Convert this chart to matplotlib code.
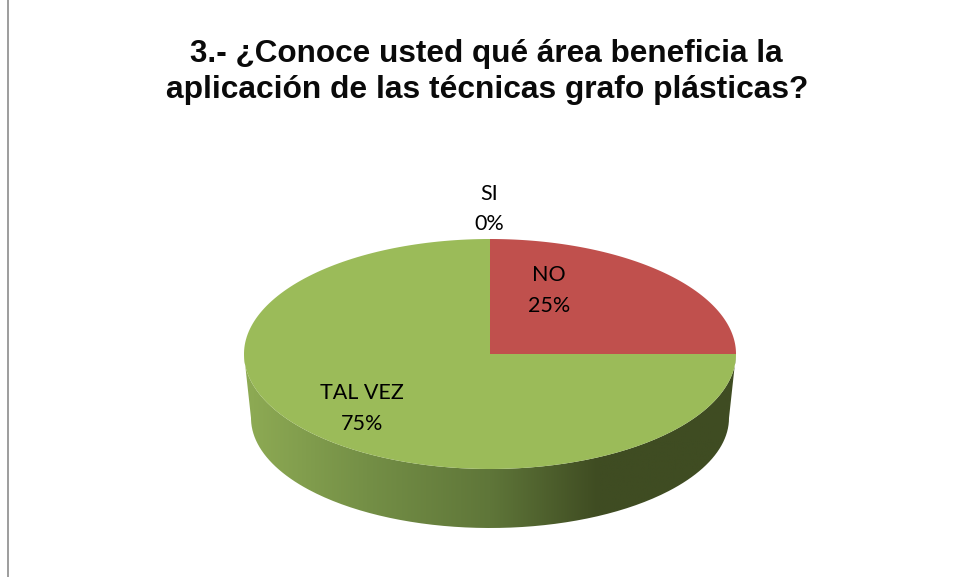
import numpy as np
import matplotlib
matplotlib.use('Agg')
import matplotlib.pyplot as plt
from matplotlib.patches import PathPatch
from matplotlib.path import Path
from matplotlib.colors import LinearSegmentedColormap

categories = ['SI', 'NO', 'TAL VEZ']
values = [0, 25, 75]
colors = ['#4F81BD', '#C0504D', '#9BBB59']
title_lines = ['3.- ¿Conoce usted qué área beneficia la', 'aplicación de las técnicas grafo plásticas?']

W, H = 954, 577
fig = plt.figure(figsize=(W/100, H/100), dpi=100)
ax = fig.add_axes([0, 0, 1, 1])
ax.set_xlim(0, W)
ax.set_ylim(H, 0)
ax.axis('off')

ax.plot([8.5, 8.5], [0, H], color='#8c8c8c', lw=1.2)

cx, cy, rx, ry = 490, 354, 246, 115
brx, bry, bcy = 239, 110, 418

t = np.linspace(0, np.pi, 200)
verts = list(zip(cx + brx*np.cos(t), bcy + bry*np.sin(t))) + list(zip(cx + rx*np.cos(t[::-1]), cy + ry*np.sin(t[::-1])))
clip = PathPatch(Path(verts + [verts[0]]), fc='none', ec='none')
ax.add_patch(clip)
cmap = LinearSegmentedColormap.from_list('side', [(0, '#8EAB54'), (0.25, '#748F46'), (0.5, '#5F7639'), (0.72, '#3F4C22'), (1, '#3F4C22')])
im = ax.imshow(np.linspace(0, 1, 256)[None, :], extent=[cx-rx, cx+rx, bcy+bry+2, cy-2], cmap=cmap, aspect='auto', zorder=1)
im.set_clip_path(clip)
ax.set_xlim(0, W)
ax.set_ylim(H, 0)

total = sum(values)
start = 0.0
for cat, val, col in zip(categories, values, colors):
    sweep = 360*val/total
    if val > 0:
        a = np.radians(np.linspace(start, start+sweep, 200))
        px = cx + rx*np.sin(a)
        py = cy - ry*np.cos(a)
        v = [(cx, cy)] + list(zip(px, py)) + [(cx, cy)]
        ax.add_patch(PathPatch(Path(v), fc=col, ec='none', zorder=2))
    start += sweep

font = 'Lato'
labels = {'SI': (489, 194), 'NO': (549, 275), 'TAL VEZ': (362, 393)}
for cat, val in zip(categories, values):
    x, y = labels[cat]
    ax.text(x, y, cat, ha='center', va='center', fontsize=15.5, family=font, color='#000000', zorder=3)
    ax.text(x, y+30.5, f'{val}%', ha='center', va='center', fontsize=15.5, family=font, color='#000000', zorder=3)

ax.text(486, 54, title_lines[0], ha='center', va='center', fontsize=22.7, fontweight='bold', family='Liberation Sans', color='#0a0a0a')
ax.text(487, 90, title_lines[1], ha='center', va='center', fontsize=22.85, fontweight='bold', family='Liberation Sans', color='#0a0a0a')

fig.savefig('out.png', dpi=100)
